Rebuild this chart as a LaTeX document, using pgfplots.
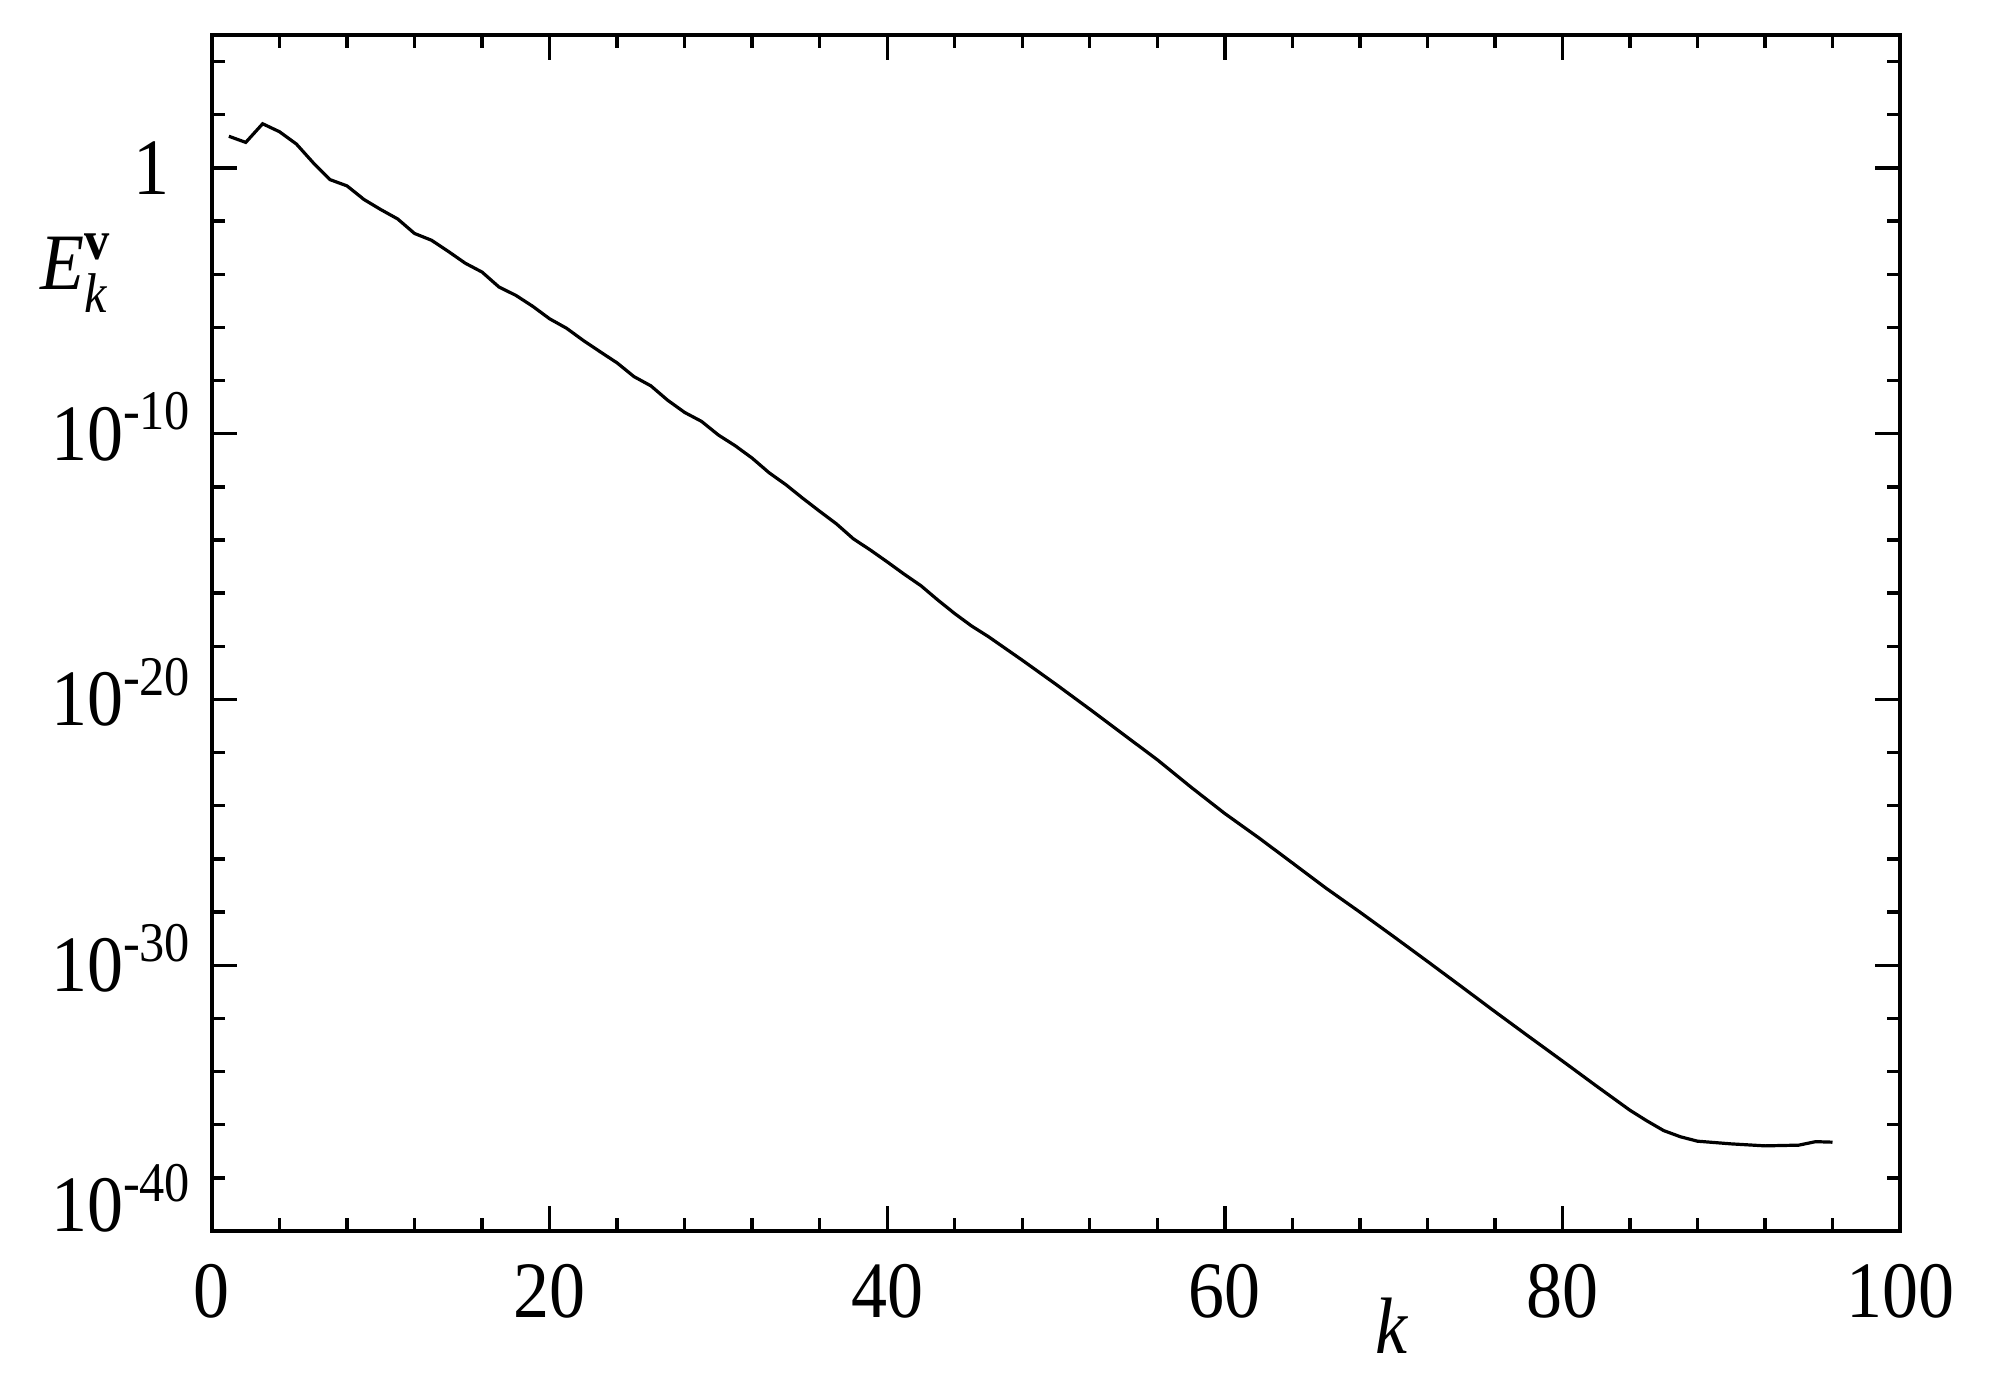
\documentclass[border=0pt]{standalone}
\usepackage{amsmath}
\usepackage{fontspec}
\setmainfont{Liberation Serif}[FakeStretch=0.9]
\usepackage{pgfplots}
\pgfplotsset{compat=1.18}

\begin{document}
\begin{tikzpicture}
\begin{axis}[
    scale only axis,
    width=422pt, height=299pt,
    ymode=log,
    xmin=0, xmax=100, ymin=1e-40, ymax=1e5,
    xtick={0,20,...,100}, minor x tick num=4,
    ytick={1e-40,1e-30,1e-20,1e-10,1},
    minor ytick={1e-38,1e-36,1e-34,1e-32,1e-28,1e-26,1e-24,1e-22,1e-18,1e-16,1e-14,1e-12,1e-8,1e-6,1e-4,1e-2,1e2,1e4},
    yticklabels={\raisebox{6.5pt}{10\textsuperscript{-40}},10\textsuperscript{-30},10\textsuperscript{-20},10\textsuperscript{-10},1\rule{5.75pt}{0pt}},
    xticklabels={0,20,40,60,80,100},
    tick pos=both, xticklabel pos=lower, yticklabel pos=left,
    tick align=inside,
    major tick length=6.3pt, minor tick length=3.2pt,
    axis line style={line width=1.1pt},
    every tick/.style={black, line width=0.85pt},
    tick label style={font=\fontsize{20}{24}\selectfont},
    xticklabel style={anchor=base, yshift=-21.5pt},
    yticklabel style={anchor=base east, inner sep=0pt, xshift=-4.75pt, yshift=-6.6pt},
    clip=false,
]
\addplot[black, line width=0.8pt] coordinates {
(1,1.55e1) (2,9.1) (3,4.57e1) (4,2.29e1) (5,7.9) (6,1.55) (7,0.36) (8,0.21)
(9,6.5e-2) (10,2.7e-2) (11,1.2e-2) (12,3.4e-3) (13,1.9e-3) (14,7.2e-4) (15,2.6e-4)
(16,1.2e-4) (17,3.3e-5) (18,1.6e-5) (19,6.2e-6) (20,2.1e-6) (21,9.3e-7) (22,3.2e-7)
(23,1.2e-7) (24,4.6e-8) (25,1.4e-8) (26,6.3e-9) (27,1.8e-9) (28,6.3e-10) (29,2.9e-10)
(30,8.9e-11) (31,3.5e-11) (32,1.2e-11) (33,3.4e-12) (34,1.2e-12) (35,3.7e-13)
(36,1.2e-13) (37,4.0e-14) (38,1.1e-14) (39,4.2e-15) (40,1.5e-15) (41,5.2e-16)
(42,1.9e-16) (43,5.5e-17) (44,1.7e-17) (45,5.8e-18) (46,2.3e-18) (47,8.3e-19)
(48,3.0e-19) (50,3.7e-20) (52,4.3e-21) (54,4.8e-22) (56,5.4e-23) (58,5.0e-24)
(60,5.1e-25) (62,6.3e-26) (64,7.1e-27) (66,7.9e-28) (68,1.0e-28) (70,1.2e-29)
(72,1.4e-30) (74,1.6e-31) (76,1.8e-32) (78,2.1e-33) (80,2.5e-34) (82,2.9e-35)
(84,3.5e-36) (85,1.4e-36) (86,6.0e-37) (87,3.5e-37) (88,2.4e-37) (90,1.9e-37)
(92,1.6e-37) (94,1.7e-37) (95,2.3e-37) (96,2.2e-37)
};
\node[anchor=base west, inner sep=0pt, font=\fontsize{20}{24}\selectfont]
  at ([xshift=-43pt]rel axis cs:0,0.7868) {$\textit{E}^{\textbf{v}}_{\textit{k}}$};
\node[anchor=base, inner sep=0pt, font=\fontsize{20}{24}\selectfont]
  at ([yshift=-30.5pt]rel axis cs:0.699,0) {\textit{k}};
\end{axis}
\pgfresetboundingbox
\path ([xshift=-53pt,yshift=-39.75pt]current axis.south west) rectangle ([xshift=24.5pt,yshift=8.75pt]current axis.north east);
\end{tikzpicture}
\end{document}
